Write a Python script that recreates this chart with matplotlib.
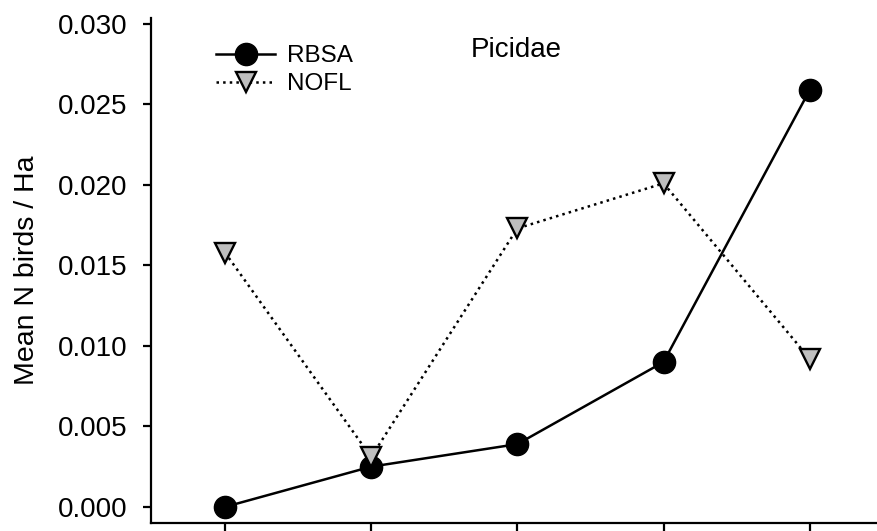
#!/usr/bin/env python3
"""Mean birds per hectare for Picidae, two species across five classes."""

import matplotlib
matplotlib.use("Agg")
import matplotlib.pyplot as plt
from matplotlib.ticker import FormatStrFormatter

classes = [1, 2, 3, 4, 5]
rbsa = [0.0000, 0.0025, 0.0039, 0.0090, 0.0259]
nofl = [0.0158, 0.0031, 0.0173, 0.0201, 0.0092]
yticks = [0.000, 0.005, 0.010, 0.015, 0.020, 0.025, 0.030]

plt.rcParams["font.family"] = ["Liberation Sans", "DejaVu Sans"]

fig = plt.figure(figsize=(8.77, 5.31), dpi=100)
ax = fig.add_axes([151 / 877, 8 / 531, 1 - 151 / 877, (523 - 18) / 531])

ax.plot(classes, rbsa, color="black", linewidth=1.8, marker="o",
        markersize=16, markerfacecolor="black", markeredgecolor="black",
        label="RBSA", zorder=3)
ax.plot(classes, nofl, color="black", linewidth=1.8, linestyle=":",
        marker="v", markersize=15, markerfacecolor="#bebebe",
        markeredgecolor="black", markeredgewidth=1.7, label="NOFL", zorder=4)

ax.set_xlim(0.494, 5.46)
ax.set_ylim(-0.001, 0.03037)
ax.set_xticks(classes)
ax.set_xticklabels([])
ax.set_yticks(yticks)
ax.yaxis.set_major_formatter(FormatStrFormatter("%.3f"))
ax.tick_params(axis="both", direction="out", length=6, width=1.6,
               labelsize=20, pad=11)

for side in ("top", "right"):
    ax.spines[side].set_visible(False)
for side in ("left", "bottom"):
    ax.spines[side].set_linewidth(1.6)

ax.set_ylabel("Mean N birds / Ha", fontsize=20.5, labelpad=13)
ax.text(2.99, 0.0284, "Picidae", fontsize=20, ha="center", va="center")

ax.legend(loc="upper left", bbox_to_anchor=(0.07, 0.975), frameon=False,
          fontsize=17.5, handlelength=2.4, handletextpad=0.5,
          labelspacing=0.25, borderaxespad=0.2)

fig.savefig("out.png", dpi=100)
